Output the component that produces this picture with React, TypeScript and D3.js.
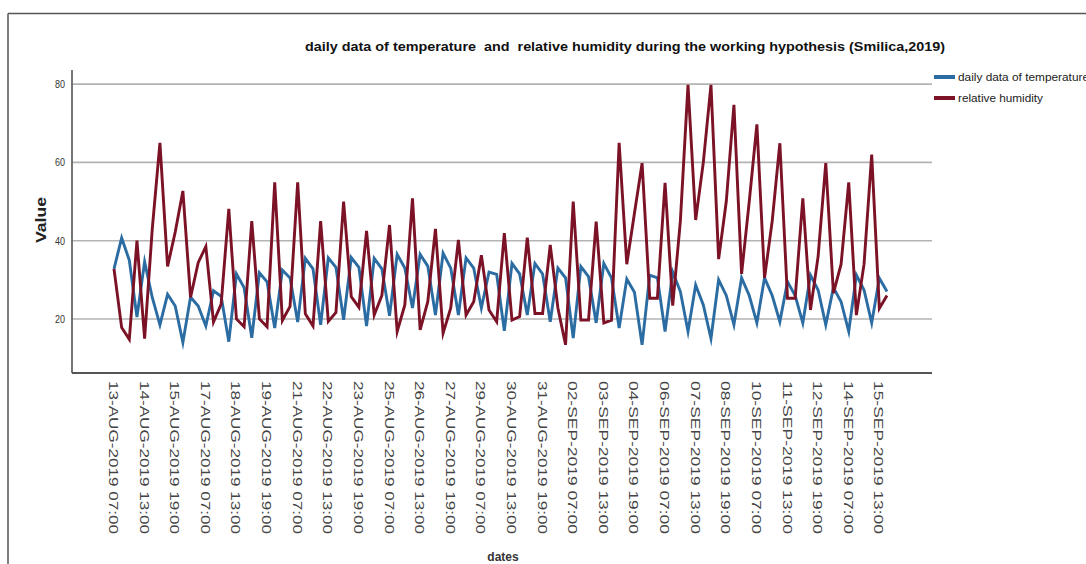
import React from "react";
import * as d3 from "d3";

const title = "daily data of temperature  and  relative humidity during the working hypothesis (Smilica,2019)";
const seriesNames = ["daily data of temperature", "relative humidity"];
const seriesColors = ["#2b6ca3", "#7b1226"];

const tickLabels = [
  "13-AUG-2019 07:00", "14-AUG-2019 13:00", "15-AUG-2019 19:00", "17-AUG-2019 07:00",
  "18-AUG-2019 13:00", "19-AUG-2019 19:00", "21-AUG-2019 07:00", "22-AUG-2019 13:00",
  "23-AUG-2019 19:00", "25-AUG-2019 07:00", "26-AUG-2019 13:00", "27-AUG-2019 19:00",
  "29-AUG-2019 07:00", "30-AUG-2019 13:00", "31-AUG-2019 19:00", "02-SEP-2019 07:00",
  "03-SEP-2019 13:00", "04-SEP-2019 19:00", "06-SEP-2019 07:00", "07-SEP-2019 13:00",
  "08-SEP-2019 19:00", "10-SEP-2019 07:00", "11-SEP-2019 13:00", "12-SEP-2019 19:00",
  "14-SEP-2019 07:00", "15-SEP-2019 13:00",
];
const tickEvery = 4;

const temperature = [
  32.8, 40.7, 35, 20.5, 34.6, 25.5, 18.5, 26.3, 23.3, 14, 25.6, 23.3,
  18.2, 27.2, 25.8, 14.2, 31.5, 28, 15.2, 31.8, 29.5, 17.7, 32.5, 30.5,
  19.2, 35.5, 32.8, 18.5, 35.6, 33.2, 19.8, 35.7, 33.2, 18.2, 35.5, 32.8,
  20.8, 36.5, 33, 22.8, 36.5, 33.5, 21, 36.8, 33, 21, 35.6, 33,
  22.8, 32, 31.4, 17, 34.2, 31.5, 21, 34.2, 31.5, 19.3, 33, 30.5,
  15.1, 33.4, 30.8, 19, 34.2, 30.5, 17.7, 30.2, 26.8, 13.4, 31.2, 30.5,
  16.8, 32, 27, 16.8, 28.7, 23.6, 15, 30, 26, 18.5, 30.5, 26,
  19, 30.5, 26, 19.3, 29.5, 26, 19, 31.2, 27.4, 18.5, 28, 24.4,
  16.8, 31.2, 27.4, 19, 30.4, 27,
];

const humidity = [
  32.8, 17.8, 14.8, 40, 15, 43, 65, 33.4, 42.2, 52.7, 25.5, 34.4,
  38.5, 19.2, 23.8, 48.1, 20, 18, 45, 20, 18, 54.9, 19.6, 23.2,
  54.9, 21.3, 18.2, 45, 19.4, 21.7, 50, 25.7, 23, 42.5, 21, 26,
  44, 16.8, 23.6, 50.8, 17.2, 24.4, 43, 16.4, 22.8, 40.2, 21, 24.4,
  36.3, 22.3, 19.3, 41.9, 19.7, 20.6, 40.8, 21.4, 21.4, 38.9, 22.8, 13.4,
  50, 19.7, 19.7, 44.9, 19, 19.7, 65, 34, 47, 59.8, 25.3, 25.3,
  54.8, 23.4, 45, 79.8, 45.3, 60, 79.8, 35.3, 50, 74.7, 31.5, 50,
  69.7, 30.5, 45, 64.9, 25.3, 25.3, 50.8, 22.3, 36, 59.8, 26.6, 34,
  54.9, 21, 34, 62, 22.7, 26,
];

const yTicks = [20, 40, 60, 80];

const W = 1086;
const H = 564;
const plotLeft = 72;
const plotRight = 932;
const plotTop = 70;
const plotBottom = 373;

export default function App() {
  const idx = d3.range(temperature.length);
  const x = d3.scalePoint<number>().domain(idx).range([114, 887]);
  const y = d3.scaleLinear().domain([6.2, 83.6]).range([plotBottom, plotTop]);
  const line = d3
    .line<number>()
    .x((_, i) => x(i) as number)
    .y((d) => y(d));
  const series = [temperature, humidity];
  const font = "'Liberation Sans', Arial, sans-serif";

  return (
    <svg
      width={W}
      height={H}
      style={{ position: "absolute", left: 0, top: 0, background: "#fff" }}
      fontFamily={font}
    >
      <rect x={0} y={0} width={W} height={H} fill="#fff" />
      {/* frame */}
      <line x1={8} y1={13.5} x2={W} y2={13.5} stroke="#555" strokeWidth={1.5} />
      <line x1={8} y1={13.5} x2={8} y2={H} stroke="#555" strokeWidth={1.5} />

      {/* title */}
      <text
        x={625}
        y={51}
        textAnchor="middle"
        fontWeight="bold"
        fontSize={13}
        fill="#111"
        textLength={640}
        lengthAdjust="spacingAndGlyphs"
        style={{ whiteSpace: "pre" }}
      >
        {title}
      </text>

      {/* gridlines */}
      {yTicks.map((t) => (
        <line key={t} x1={plotLeft} x2={plotRight} y1={y(t)} y2={y(t)} stroke="#b3b3b3" strokeWidth={1.6} />
      ))}
      {/* y tick labels */}
      {yTicks.map((t) => (
        <text key={"l" + t} x={65} y={y(t)} dy="0.35em" textAnchor="end" fontSize={11} fill="#333"
          textLength={10} lengthAdjust="spacingAndGlyphs">
          {t}
        </text>
      ))}

      {/* axes */}
      <line x1={plotLeft} x2={plotLeft} y1={plotTop} y2={plotBottom} stroke="#666" strokeWidth={1.8} />
      <line x1={plotLeft} x2={plotRight} y1={plotBottom} y2={plotBottom} stroke="#555" strokeWidth={2} />

      {/* y title */}
      <text
        transform={`translate(40,220) rotate(-90)`}
        textAnchor="middle"
        dominantBaseline="central"
        fontWeight="bold"
        fontSize={15}
        fill="#222"
        textLength={46}
        lengthAdjust="spacingAndGlyphs"
      >
        Value
      </text>

      {/* x tick labels */}
      {tickLabels.map((lab, i) => {
        const xi = x(i * tickEvery) as number;
        return (
          <text
            key={lab}
            transform={`translate(${xi - 0.5},381) rotate(90)`}
            textAnchor="start"
            dominantBaseline="central"
            fontSize={13}
            fill="#444"
            textLength={153}
            lengthAdjust="spacingAndGlyphs"
          >
            {lab}
          </text>
        );
      })}

      {/* x title */}
      <text x={503} y={561} textAnchor="middle" fontWeight="bold" fontSize={12} fill="#333">
        dates
      </text>

      {/* lines */}
      {series.map((s, k) => (
        <path
          key={k}
          d={line(s) || ""}
          fill="none"
          stroke={seriesColors[k]}
          strokeWidth={2.9}
          strokeLinejoin="miter"
          strokeMiterlimit={6}
        />
      ))}

      {/* legend */}
      {seriesNames.map((n, k) => (
        <g key={n} transform={`translate(934,${77 + k * 21})`}>
          <line x1={0} x2={21} y1={0} y2={0} stroke={seriesColors[k]} strokeWidth={4} />
          <text
            x={24}
            y={0}
            dy="0.35em"
            fontSize={11}
            fill="#222"
            textLength={k === 0 ? 131 : 85}
            lengthAdjust="spacingAndGlyphs"
          >
            {n}
          </text>
        </g>
      ))}
    </svg>
  );
}
